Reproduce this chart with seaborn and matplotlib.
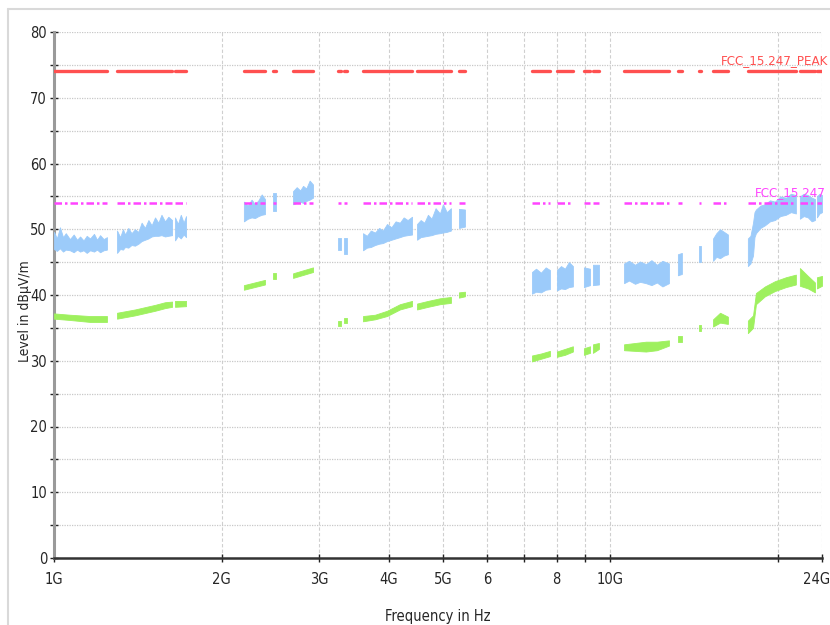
import numpy as np
import pandas as pd
import matplotlib
matplotlib.use("Agg")
import matplotlib.pyplot as plt
from matplotlib.lines import Line2D
from matplotlib.transforms import ScaledTranslation
import seaborn as sns

# Sweep data read off the screen shot, frequency in GHz, level in dBuV/m
# peak trace (blue band): segment id, freq, lower / upper edge of the noise
peak_seg = [0]*17 + [1]*18 + [2]*5 + [3]*7 + [4]*2 + [5]*7 + [6]*2 + [7]*2 + [8]*13 + [9]*10 + [10]*2 \
    + [11]*5 + [12]*5 + [13]*2 + [14]*2 + [15]*9 + [16]*2 + [17]*2 + [18]*5 + [19]*13 + [20]*5 + [21]*3
peak_freq = [1.000, 1.012, 1.025, 1.038, 1.050, 1.068, 1.085, 1.100, 1.114, 1.130, 1.145, 1.161, 1.180, 1.195, 1.210, 1.228, 1.245,
             1.298, 1.315, 1.330, 1.342, 1.360, 1.378, 1.398, 1.418, 1.437, 1.457, 1.478, 1.498, 1.519, 1.540, 1.560, 1.583, 1.605, 1.630,
             1.650, 1.670, 1.690, 1.710, 1.727,
             2.194, 2.230, 2.265, 2.297, 2.330, 2.362, 2.394,
             2.475, 2.506,
             2.689, 2.730, 2.770, 2.803, 2.840, 2.880, 2.921,
             3.238, 3.279,
             3.320, 3.362,
             3.592, 3.650, 3.710, 3.775, 3.840, 3.900, 3.967, 4.040, 4.110, 4.184, 4.250, 4.320, 4.400,
             4.492, 4.560, 4.630, 4.699, 4.770, 4.850, 4.938, 5.000, 5.080, 5.168,
             5.342, 5.477,
             7.227, 7.350, 7.501, 7.650, 7.785,
             8.014, 8.150, 8.283, 8.420, 8.561,
             8.960, 9.190,
             9.302, 9.535,
             10.58, 10.80, 11.07, 11.30, 11.58, 11.85, 12.12, 12.40, 12.74,
             13.22, 13.44,
             14.42, 14.54,
             15.29, 15.50, 15.74, 16.00, 16.26,
             17.66, 17.85, 18.04, 18.15, 18.26, 18.60, 18.95, 19.35, 19.75, 20.20, 20.67, 21.10, 21.54,
             21.90, 22.25, 22.64, 23.00, 23.31,
             23.50, 23.75, 24.00]
peak_low = [47.0, 46.7, 47.1, 46.6, 46.9, 46.8, 46.5, 46.9, 46.6, 46.8, 46.4, 46.8, 46.6, 46.9, 46.5, 46.8, 46.9,
            46.4, 47.0, 46.9, 47.3, 47.2, 47.6, 47.5, 47.8, 48.2, 48.4, 48.6, 48.9, 49.0, 49.0, 49.1, 48.9, 49.0, 49.1,
            48.3, 49.0, 48.6, 49.2, 48.8,
            51.2, 51.6, 51.8, 51.7, 52.0, 52.2, 52.3,
            52.8, 52.8,
            53.8, 54.0, 54.2, 54.0, 54.3, 54.5, 54.8,
            46.8, 46.8,
            46.3, 46.3,
            46.8, 47.2, 47.3, 47.6, 47.8, 47.9, 48.2, 48.4, 48.6, 48.8, 49.0, 49.1, 49.2,
            48.4, 48.8, 48.9, 49.0, 49.1, 49.3, 49.4, 49.5, 49.6, 49.8,
            50.2, 50.4,
            40.2, 40.5, 40.4, 40.8, 40.9,
            40.7, 41.0, 40.9, 41.2, 41.3,
            41.2, 41.5,
            41.5, 41.6,
            41.8, 42.2, 41.7, 42.0, 41.8, 41.5, 41.9, 41.3, 41.8,
            43.0, 43.2,
            45.0, 45.0,
            45.2, 45.8, 45.6, 46.0, 46.2,
            44.4, 44.8, 46.0, 48.8, 49.4, 50.2, 50.6, 51.2, 51.4, 52.0, 52.2, 52.6, 52.4,
            51.6, 52.0, 51.8, 51.2, 51.4,
            51.8, 52.4, 52.6]
peak_high = [49.6, 48.6, 50.3, 48.8, 49.4, 48.5, 49.2, 48.4, 48.9, 48.3, 49.0, 48.6, 49.3, 48.4, 49.1, 48.5, 48.8,
             49.8, 48.8, 50.0, 49.2, 50.2, 49.4, 50.0, 49.6, 51.0, 50.2, 51.4, 50.6, 51.8, 51.0, 52.2, 51.2, 51.9, 51.4,
             51.8, 50.8, 52.2, 51.0, 52.0,
             54.2, 53.6, 54.5, 53.8, 54.4, 55.3, 54.6,
             55.5, 55.5,
             55.8, 56.4, 55.9, 56.6, 56.2, 57.4, 56.8,
             48.6, 48.6,
             48.6, 48.6,
             49.4, 49.0, 49.8, 49.5, 50.2, 49.8, 50.8, 50.3, 51.2, 51.0, 51.8, 51.4, 51.9,
             50.8, 51.4, 51.0, 52.2, 51.6, 53.2, 52.4, 53.8, 52.6, 53.2,
             53.1, 53.0,
             43.5, 44.0, 43.4, 44.2, 43.8,
             43.8, 44.4, 44.0, 45.0, 44.4,
             44.2, 44.0,
             44.6, 44.6,
             44.8, 45.2, 44.6, 45.1, 44.7, 45.3, 44.6, 45.2, 44.8,
             46.2, 46.4,
             47.4, 47.4,
             48.6, 49.4, 50.0, 49.6, 49.2,
             48.6, 49.0, 51.0, 52.6, 53.0, 53.6, 53.8, 54.4, 54.2, 55.0, 54.8, 55.4, 55.2,
             55.0, 55.4, 55.2, 54.8, 54.6,
             55.0, 55.4, 55.2]

# average trace (green band)
avg_seg = [0]*4 + [1]*5 + [2]*2 + [3]*2 + [4]*2 + [5]*2 + [6]*2 + [7]*2 + [8]*5 + [9]*4 + [10]*2 \
    + [11]*3 + [12]*3 + [13]*2 + [14]*2 + [15]*5 + [16]*2 + [17]*2 + [18]*3 + [19]*7 + [20]*3 + [21]*2
avg_freq = [1.000, 1.068, 1.161, 1.245,
            1.298, 1.398, 1.519, 1.583, 1.630,
            1.650, 1.727,
            2.194, 2.394,
            2.475, 2.506,
            2.689, 2.921,
            3.238, 3.279,
            3.320, 3.362,
            3.592, 3.775, 3.967, 4.184, 4.400,
            4.492, 4.699, 4.938, 5.168,
            5.342, 5.477,
            7.227, 7.501, 7.785,
            8.014, 8.283, 8.561,
            8.960, 9.190,
            9.302, 9.535,
            10.58, 11.07, 11.58, 12.12, 12.74,
            13.22, 13.44,
            14.42, 14.54,
            15.29, 15.74, 16.26,
            17.66, 18.04, 18.26, 18.95, 19.75, 20.67, 21.54,
            21.90, 22.64, 23.31,
            23.50, 24.00]
avg_low = [36.4, 36.2, 35.9, 35.9,
           36.4, 36.9, 37.6, 38.0, 38.2,
           38.2, 38.3,
           40.8, 41.6,
           42.5, 42.5,
           42.6, 43.5,
           35.3, 35.3,
           35.8, 35.8,
           36.0, 36.3, 36.8, 37.8, 38.3,
           37.8, 38.2, 38.6, 38.8,
           39.6, 39.8,
           29.9, 30.3, 30.7,
           30.6, 30.9, 31.4,
           30.9, 31.2,
           31.2, 31.8,
           31.6, 31.5, 31.4, 31.6, 32.3,
           32.9, 32.9,
           34.6, 34.6,
           35.2, 35.8, 35.6,
           34.2, 35.0, 38.6, 39.8, 40.6, 41.2, 41.6,
           41.4, 41.0, 40.4,
           41.0, 41.4]
avg_high = [37.2, 37.0, 36.8, 36.8,
            37.3, 37.8, 38.5, 38.9, 39.0,
            39.1, 39.1,
            41.5, 42.3,
            43.3, 43.3,
            43.3, 44.2,
            36.1, 36.1,
            36.5, 36.5,
            36.8, 37.0, 37.6, 38.6, 39.1,
            38.7, 39.1, 39.5, 39.7,
            40.4, 40.5,
            30.8, 31.1, 31.5,
            31.4, 31.8, 32.2,
            31.9, 32.2,
            32.5, 32.7,
            32.5, 32.7, 32.9, 32.9, 33.1,
            33.7, 33.7,
            35.4, 35.4,
            36.3, 37.3, 36.7,
            36.1, 36.9, 40.3, 41.3, 42.1, 42.7, 43.1,
            44.1, 42.9, 41.9,
            42.7, 42.9]

peak_limit = 74
avg_limit = 54

x_ticks = [1, 2, 3, 4, 5, 6, 7, 8, 9, 10, 20, 24]
x_labels = ['1G', '2G', '3G', '4G', '5G', '6', '', '8', '', '10G', '', '24G']

pk = pd.DataFrame({'seg': peak_seg, 'freq': peak_freq, 'lo': peak_low, 'hi': peak_high})
av = pd.DataFrame({'seg': avg_seg, 'freq': avg_freq, 'lo': avg_low, 'hi': avg_high})

# limit lines only drawn where the sweep has data
span = pk.groupby('seg')['freq'].agg(['min', 'max']).reset_index()
lim = pd.concat([span.assign(freq=span['min']), span.assign(freq=span['max'])]).sort_values(['seg', 'freq'])

sns.set_theme(style="white")
plt.rcParams['font.family'] = ['DejaVu Sans']
plt.rcParams['font.stretch'] = 'condensed'

fig = plt.figure(figsize=(8.3, 6.25), dpi=100)
ax = fig.add_axes([54/830, 1-558/625, 768/830, 526/625])
ax.set_xscale('log')

for s, g in pk.groupby('seg'):
    ax.fill_between(g['freq'], g['lo'], g['hi'], color='#9ccbfa', lw=0.6, edgecolor='#9ccbfa', zorder=3)
for s, g in av.groupby('seg'):
    ax.fill_between(g['freq'], g['lo'], g['hi'], color='#9ef05e', lw=0.6, edgecolor='#9ef05e', zorder=3)

sns.lineplot(data=lim.assign(level=peak_limit), x='freq', y='level', units='seg', estimator=None,
             color='#ff5050', lw=2.4, ax=ax, zorder=4)
sns.lineplot(data=lim.assign(level=avg_limit), x='freq', y='level', units='seg', estimator=None,
             color='#ff44ff', lw=1.8, ls=(0, (3, 1.2, 1, 1.2)), ax=ax, zorder=4)

ax.text(24.6, 74.6, 'FCC_15.247_PEAK', color='#ff5050', ha='right', va='bottom', fontsize=9.5, clip_on=False)
ax.text(24.4, 54.6, 'FCC_15.247', color='#ff44ff', ha='right', va='bottom', fontsize=9.5, clip_on=False)

ax.set_xlim(1, 24)
ax.set_ylim(0, 80)
ax.set_xticks(x_ticks)
ax.set_xticklabels(x_labels)
ax.xaxis.set_minor_locator(matplotlib.ticker.NullLocator())
ax.set_yticks(range(0, 81, 10))
ax.set_yticks(range(5, 80, 10), minor=True)

ax.grid(True, axis='x', which='major', color='#cfcfcf', ls=(0, (3, 2)), lw=0.8)
ax.grid(True, axis='y', which='both', color='#c8c8c8', ls=(0, (1, 1)), lw=0.9)

for side in ['top', 'right']:
    ax.spines[side].set_visible(False)
ax.spines['left'].set_color('#9a9a9a')
ax.spines['left'].set_linewidth(2.2)
ax.spines['bottom'].set_color('#333333')
ax.spines['bottom'].set_linewidth(1.8)

ax.tick_params(axis='both', which='both', direction='inout', length=6, width=1, color='#222222',
               labelsize=10.5, pad=2, left=True, bottom=True)
ax.tick_params(axis='x', pad=7)

# last label sits at the very edge, nudge it in a bit
last = ax.get_xticklabels()[-1]
last.set_transform(last.get_transform() + ScaledTranslation(-5/100, 0, fig.dpi_scale_trans))

ax.set_xlabel('Frequency in Hz', fontsize=10.5, va='top')
ax.xaxis.set_label_coords(0.5, -0.097)
ax.set_ylabel('Level in dBµV/m', fontsize=10, va='bottom')
ax.yaxis.set_label_coords(-0.029, 0.47)

# grey frame of the original window
fig.add_artist(Line2D([8/830, 8/830], [0, 1-9/625], transform=fig.transFigure, color='#d9d9d9', lw=1.5))
fig.add_artist(Line2D([8/830, 1], [1-9/625, 1-9/625], transform=fig.transFigure, color='#d9d9d9', lw=1.5))

fig.savefig('out.png', dpi=100)
